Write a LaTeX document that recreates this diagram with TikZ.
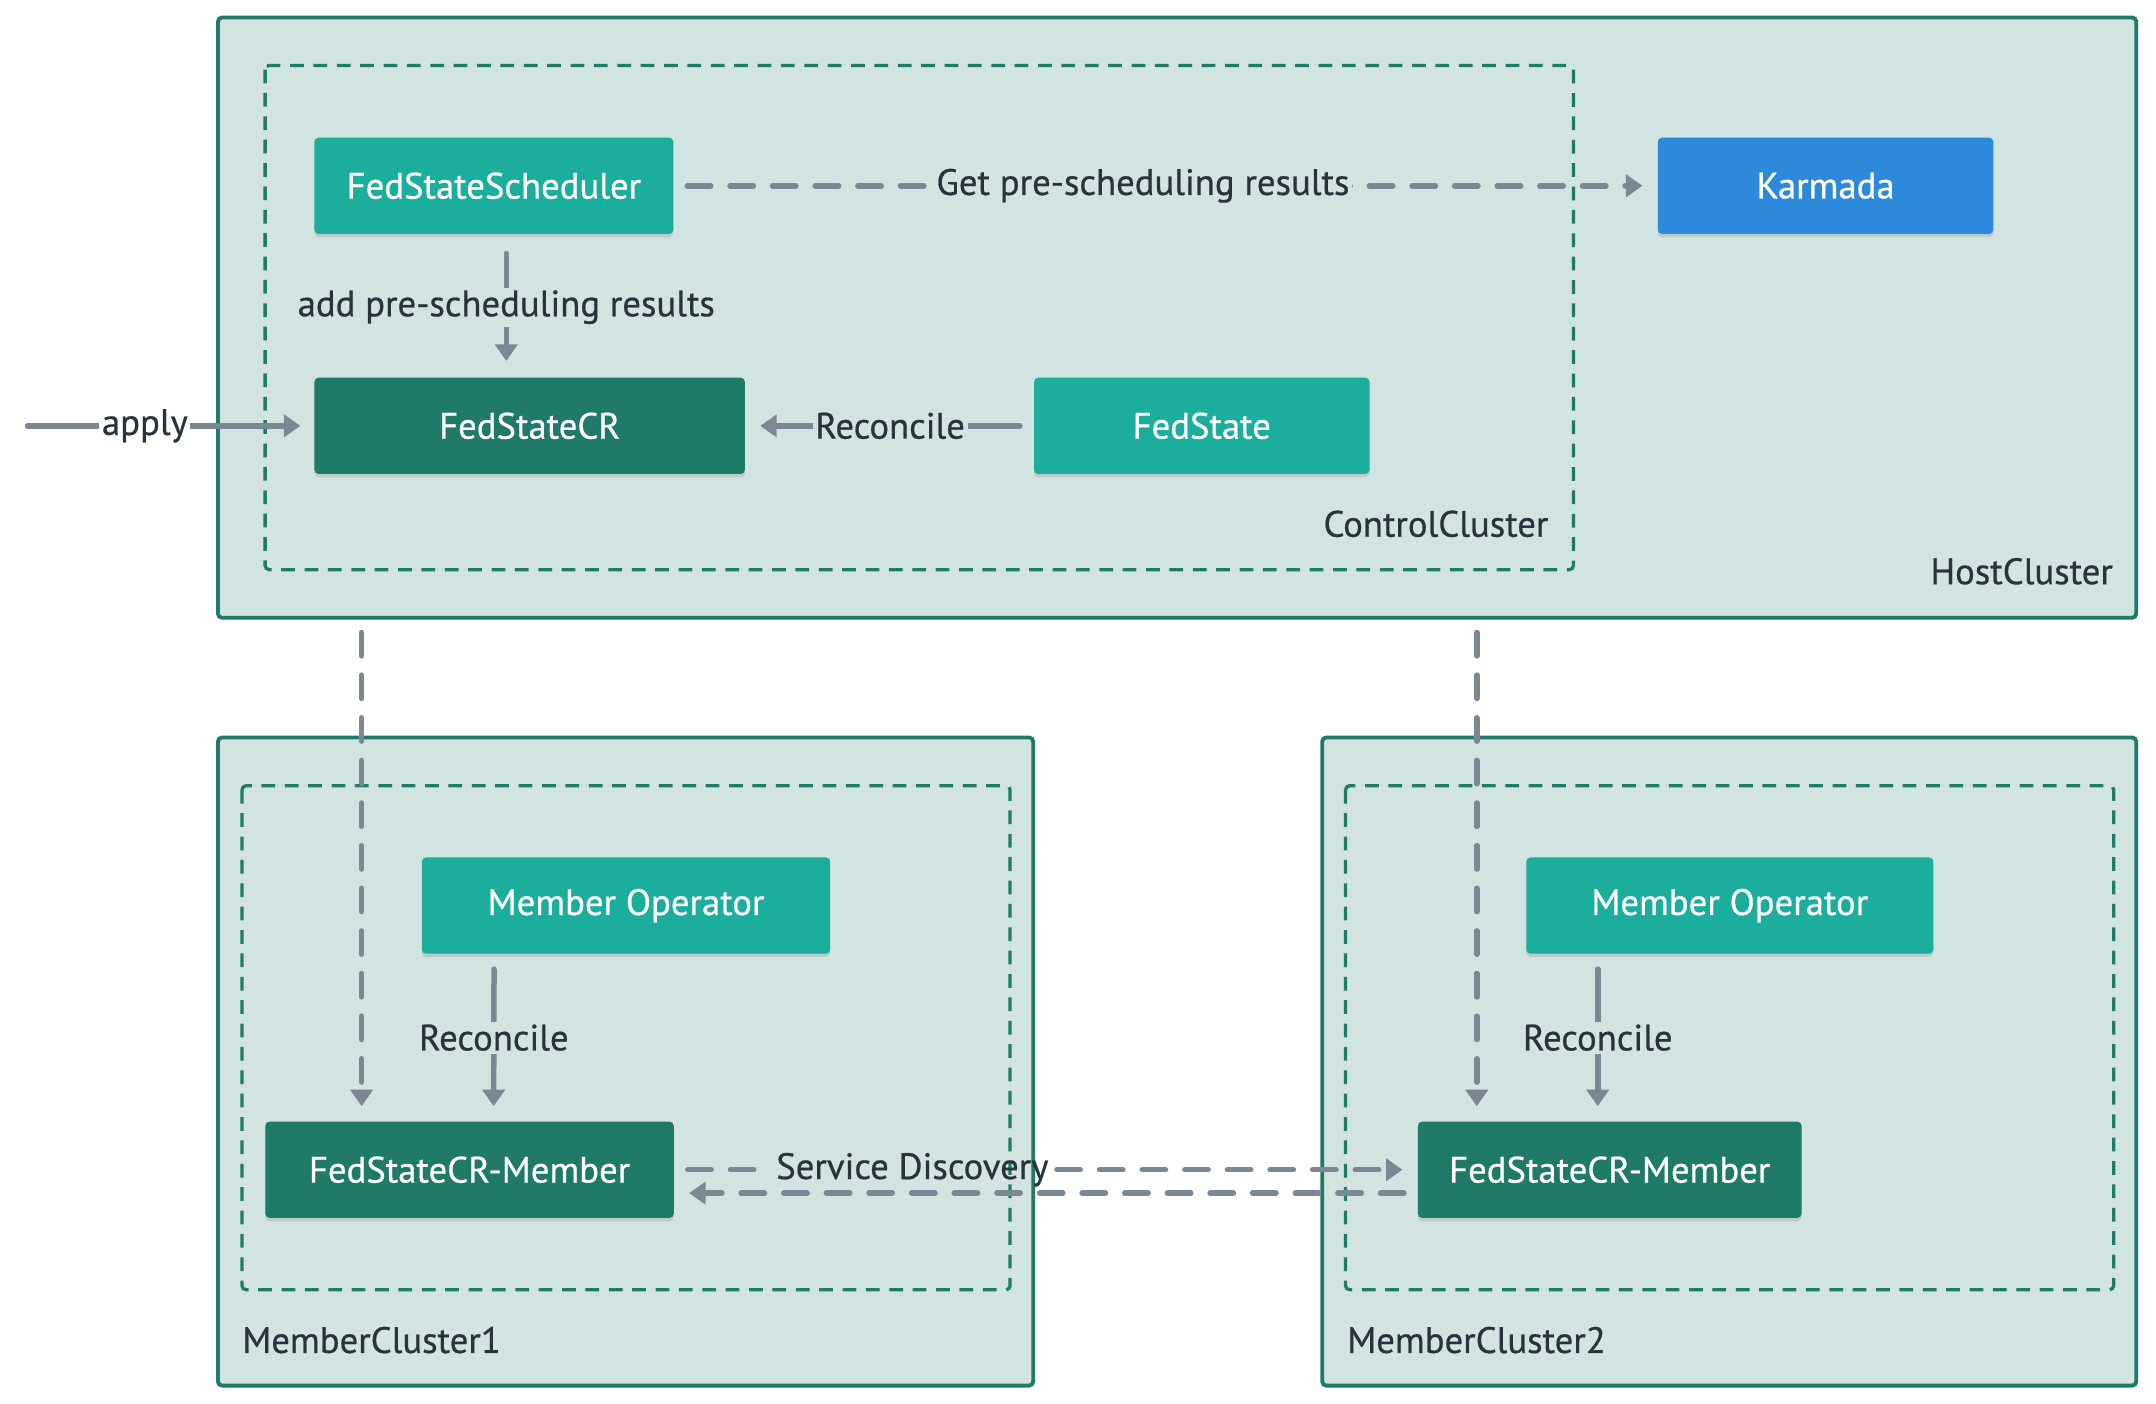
\documentclass[tikz,border=0pt]{standalone}
\usepackage{fontspec}
\setmainfont{PT Sans}[BoldFont={PT Sans}, BoldFeatures={FakeBold=0.6}]
\usetikzlibrary{arrows.meta,shadows,calc}
\definecolor{boxfill}{HTML}{D2E4E1}
\definecolor{boxline}{HTML}{1F7A68}
\definecolor{cteal}{HTML}{1BAE9D}
\definecolor{cdark}{HTML}{1F7A68}
\definecolor{cblue}{HTML}{2D89DA}
\definecolor{carrow}{HTML}{7A8896}
\definecolor{ctext}{HTML}{27343D}
\tikzset{
  cluster/.style={draw=boxline, line width=2.8pt, fill=boxfill, rounded corners=3pt},
  innerbox/.style={draw=boxline, line width=2.4pt, dash pattern=on 10pt off 7pt, rounded corners=3pt},
  comp/.style={rounded corners=3pt, text=white, font=\fontsize{26.7}{30}\selectfont\bfseries,
    inner sep=0pt, minimum height=70pt,
    drop shadow={shadow xshift=0pt, shadow yshift=-2.5pt, opacity=0.1, fill=black}},
  tealbox/.style={comp, fill=cteal},
  darkbox/.style={comp, fill=cdark},
  bluebox/.style={comp, fill=cblue},
  flow/.style={draw=carrow, line width=4pt, line cap=round, -{Triangle[length=12pt,width=16pt]}},
  dflow/.style={flow, dash pattern=on 17pt off 14pt},
  lbl/.style={text=ctext, font=\fontsize{26.7}{30}\selectfont\bfseries, inner sep=2pt},
  flbl/.style={lbl, fill=boxfill},
  wlbl/.style={lbl, fill=white},
  clbl/.style={text=ctext, font=\fontsize{26.7}{30}\selectfont\bfseries, inner sep=0pt},
}
\begin{document}
\begin{tikzpicture}[x=1pt,y=-1pt]
\useasboundingbox (0,0) rectangle (1568,1021);
% clusters
\draw[cluster] (158.5,12.7) rectangle (1553.6,449.3);
\draw[innerbox] (192.8,47.6) rectangle (1144.3,414.3);
\draw[cluster] (158.5,536.3) rectangle (751.4,1007.7);
\draw[innerbox] (176,571.4) rectangle (734.6,938);
\draw[cluster] (961.6,536.3) rectangle (1553.6,1007.7);
\draw[innerbox] (978.6,571.4) rectangle (1537.2,938);
% cluster labels
\node[clbl, anchor=east] (cclbl) at (1126.3,381) {ControlCluster};
\node[clbl, anchor=east] (hclbl) at (1536.8,415.5) {HostCluster};
\node[clbl, anchor=west] (m1lbl) at (176,974.6) {MemberCluster1};
\node[clbl, anchor=west] (m2lbl) at (979.6,974.6) {MemberCluster2};
% components
\node[tealbox, minimum width=261pt] (sched) at (359.2,135.1) {FedStateScheduler};
\node[bluebox, minimum width=244pt] (karmada) at (1327.7,135.1) {Karmada};
\node[darkbox, minimum width=313pt] (fedcr) at (385.2,309.7) {FedStateCR};
\node[tealbox, minimum width=244pt] (fedstate) at (874,309.7) {FedState};
\node[tealbox, minimum width=297pt] (mo1) at (455.3,658.6) {Member Operator};
\node[darkbox, minimum width=297pt] (cr1) at (341.5,850.7) {FedStateCR-Member};
\node[tealbox, minimum width=296pt] (mo2) at (1258,658.6) {Member Operator};
\node[darkbox, minimum width=279pt] (cr2) at (1170.7,850.7) {FedStateCR-Member};
% connectors
\draw[dflow] ([xshift=10pt]sched.east) -- node[flbl, pos=0.477] {Get pre-scheduling results} ([xshift=-11pt]karmada.west);
\draw[flow] ([xshift=9pt,yshift=-14pt]sched.south) -- node[flbl] {add pre-scheduling results} ([xshift=-17pt,yshift=12pt]fedcr.north);
\coordinate (src) at (20,309.7);
\draw[flow] (src) -- node[wlbl, pos=0.43] {apply} ([xshift=-10pt]fedcr.west);
\draw[flow] ([xshift=-10pt]fedstate.west) -- node[flbl] {Reconcile} ([xshift=11pt]fedcr.east);
\draw[flow] ([xshift=-96pt,yshift=-11pt]mo1.south) -- node[flbl] {Reconcile} ([xshift=17.5pt,yshift=11pt]cr1.north);
\draw[flow] ([xshift=-96pt,yshift=-11pt]mo2.south) -- node[flbl] {Reconcile} ([xshift=-8.7pt,yshift=11pt]cr2.north);
\coordinate (h1) at (263,460);
\coordinate (h2) at (1074,460);
\draw[dflow] (h1) -- ($(h1 |- cr1.north)+(0,-11)$);
\draw[dflow] (h2) -- ($(h2 |- cr2.north)+(0,-11)$);
% service discovery
\node[lbl, inner sep=0pt] (sd) at (663.5,850.7) {Service Discovery};
\draw[draw=carrow, line width=4pt, line cap=round, dash pattern=on 17pt off 14pt] ([xshift=10pt]cr1.east) -- ([xshift=-6pt]sd.west);
\draw[dflow] ([xshift=6pt]sd.east) -- ([xshift=-11pt]cr2.west);
\draw[dflow] ([xshift=-10pt,yshift=-17pt]cr2.west) -- ([xshift=11pt,yshift=-17pt]cr1.east);
\end{tikzpicture}
\end{document}
